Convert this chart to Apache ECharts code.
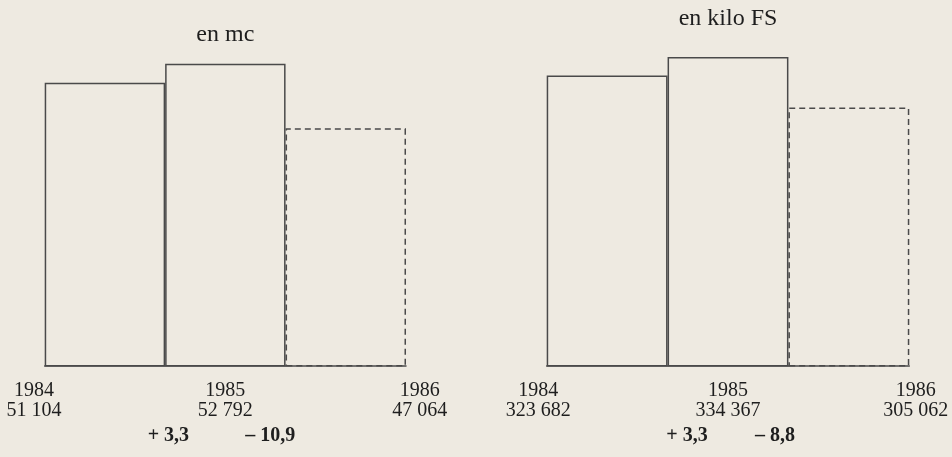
<!DOCTYPE html>
<html><head><meta charset="utf-8">
<script src="https://cdn.jsdelivr.net/npm/echarts@6/dist/echarts.min.js"></script>
<style>html,body{margin:0;padding:0;background:#eeeae1}#c{width:952px;height:457px}</style>
</head><body><div id="c"></div>
<script>
// ---- data ----
const years = ['1984', '1985', '1986'];
const volumeMc = [51104, 52792, 47064];
const revenueKiloFS = [323682, 334367, 305062];
const volumeChanges = ['+ 3,3', '\u2013 10,9'];
const revenueChanges = ['+ 3,3', '\u2013 8,8'];
const volumeTitle = 'en mc';
const revenueTitle = 'en kilo FS';

// ---- styles ----
const FONT = '"Liberation Serif", "DejaVu Serif", serif';
const INK = '#1e1e1e';
const LINE = '#4a4a4a';
const panels = [
  { grid: { left: 44.7, width: 361.3, top: 40, bottom: 91.3 }, yMin: 26000, yMax: 54900,
    values: volumeMc, shift: [-71, 0, 74], title: volumeTitle, titleY: 35,
    changes: volumeChanges, changeShift: [-57, 45] },
  { grid: { left: 546.7, width: 362.6, top: 40, bottom: 91.3 }, yMin: 155500, yMax: 344250,
    values: revenueKiloFS, shift: [-69, 0, 67], title: revenueTitle, titleY: 19,
    changes: revenueChanges, changeShift: [-41, 47] }
];

function fmt(v) { return String(v).replace(/\B(?=(\d{3})+(?!\d))/g, ' '); }

const chart = echarts.init(document.getElementById('c'), null, { renderer: 'canvas' });
const option = {
  backgroundColor: '#eeeae1',
  animation: false,
  grid: panels.map(p => Object.assign({ containLabel: false }, p.grid)),
  xAxis: panels.map((p, i) => ({
    type: 'category', gridIndex: i, data: years,
    axisLine: { show: true, lineStyle: { color: LINE, width: 1.5 } },
    axisTick: { show: false }, axisLabel: { show: false }, splitLine: { show: false }
  })),
  yAxis: panels.map((p, i) => ({
    type: 'value', gridIndex: i, min: p.yMin, max: p.yMax, show: false, splitLine: { show: false }
  })),
  series: panels.map((p, i) => ({
    type: 'bar', xAxisIndex: i, yAxisIndex: i,
    barCategoryGap: '0%', barGap: '0%',
    data: p.values.map((v, k) => ({
      value: v,
      itemStyle: {
        color: 'rgba(0,0,0,0)', borderColor: LINE, borderWidth: 1.5,
        borderType: k === 2 ? [6, 4] : 'solid'
      },
      label: { offset: [p.shift[k], 0] }
    })),
    label: {
      show: true, position: 'bottom', distance: 14.5,
      fontFamily: FONT, fontSize: 20, lineHeight: 20, color: INK, align: 'center',
      formatter: prm => years[prm.dataIndex] + '\n' + fmt(p.values[prm.dataIndex])
    },
    silent: true
  }))
};
chart.setOption(option);

// annotations positioned from the axes
const graphics = [];
panels.forEach((p, i) => {
  const cx = chart.convertToPixel({ xAxisIndex: i }, years[1]);
  graphics.push({
    type: 'text', x: cx, y: p.titleY,
    style: { text: p.title, font: '24px ' + FONT, fill: INK, textAlign: 'center', textVerticalAlign: 'middle' }
  });
  p.changes.forEach((t, k) => {
    graphics.push({
      type: 'text', x: cx + p.changeShift[k], y: 435.5,
      style: { text: t, font: 'bold 20px ' + FONT, fill: INK, textAlign: 'center', textVerticalAlign: 'middle' }
    });
  });
});
chart.setOption({ graphic: graphics });
</script>
</body></html>
